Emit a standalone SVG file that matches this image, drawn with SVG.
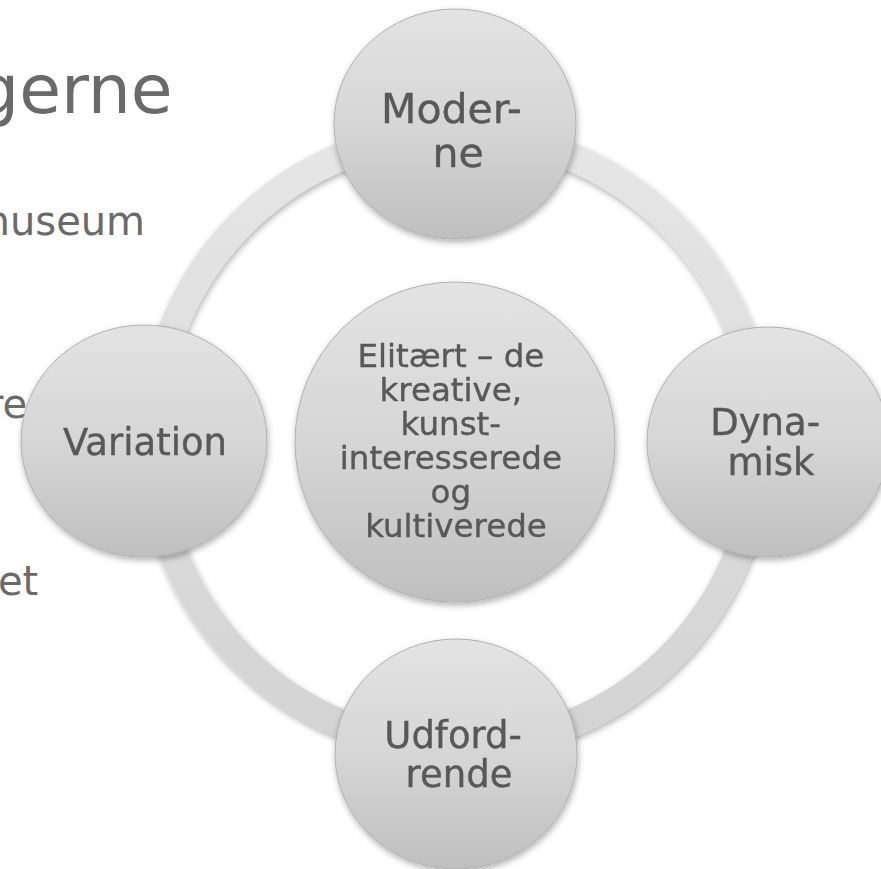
<svg xmlns="http://www.w3.org/2000/svg" width="881" height="869" viewBox="0 0 881 869">
  <defs>
    <linearGradient id="gCircle" x1="0" y1="0" x2="0" y2="1">
      <stop offset="0" stop-color="#e3e3e3"/>
      <stop offset="0.5" stop-color="#d6d6d6"/>
      <stop offset="1" stop-color="#bfbfbf"/>
    </linearGradient>
    <linearGradient id="gRing" x1="0" y1="0" x2="0" y2="1">
      <stop offset="0" stop-color="#e6e6e6"/>
      <stop offset="1" stop-color="#d3d3d3"/>
    </linearGradient>
    <filter id="shadow" x="-20%" y="-20%" width="140%" height="140%">
      <feDropShadow dx="1" dy="3" stdDeviation="3" flood-color="#000" flood-opacity="0.3"/>
    </filter>
    <filter id="soft" x="-5%" y="-5%" width="110%" height="110%">
      <feGaussianBlur stdDeviation="0.6"/>
    </filter>
  </defs>
  <style>
    .bg { font-family: "DejaVu Sans", "Liberation Sans", sans-serif; fill: #6a6a6a; }
    .node { fill: url(#gCircle); stroke: #b0b0b0; stroke-width: 1; filter: url(#shadow); }
    .lbl { font-family: "DejaVu Sans", Verdana, sans-serif; fill: #585858; stroke: #585858; stroke-width: 0.4; text-anchor: middle; filter: url(#soft); }
  </style>
  <rect width="881" height="869" fill="#ffffff"/>

  <!-- background slide text (partially hidden) -->
  <g id="slide-text">
    <text class="bg" x="-24" y="113" font-size="68">gerne</text>
    <text class="bg" x="-29" y="235" font-size="40">museum</text>
    <text class="bg" x="-13" y="418" font-size="40">re</text>
    <text class="bg" x="-2" y="595" font-size="40">et</text>
  </g>

  <!-- connector ring -->
  <g id="connectors">
    <ellipse cx="456" cy="440" rx="304" ry="306" fill="none" stroke="url(#gRing)" stroke-width="28" filter="url(#shadow)"/>
  </g>

  <g id="node-center">
    <circle class="node" cx="455" cy="442" r="160"/>
    <text class="lbl" font-size="32.5">
      <tspan x="456" y="367">Elitært – de</tspan>
      <tspan x="456" y="401">kreative,</tspan>
      <tspan x="456" y="435">kunst-</tspan>
      <tspan x="456" y="469">interesserede</tspan>
      <tspan x="456" y="503">og</tspan>
      <tspan x="456" y="537">kultiverede</tspan>
    </text>
  </g>

  <g id="node-moderne">
    <ellipse class="node" cx="455" cy="124" rx="121" ry="115"/>
    <text class="lbl" font-size="41">
      <tspan x="458" y="123">Moder-</tspan>
      <tspan x="458" y="167">ne</tspan>
    </text>
  </g>

  <g id="node-dynamisk">
    <ellipse class="node" cx="768" cy="442" rx="121" ry="115"/>
    <text class="lbl" font-size="37">
      <tspan x="771" y="435">Dyna-</tspan>
      <tspan x="771" y="475">misk</tspan>
    </text>
  </g>

  <g id="node-udfordrende">
    <ellipse class="node" cx="456" cy="754" rx="121" ry="115"/>
    <text class="lbl" font-size="37">
      <tspan x="459" y="748">Udford-</tspan>
      <tspan x="459" y="787">rende</tspan>
    </text>
  </g>

  <g id="node-variation">
    <ellipse class="node" cx="144" cy="441" rx="123" ry="116"/>
    <text class="lbl" font-size="37" x="145" y="455">Variation</text>
  </g>
</svg>
